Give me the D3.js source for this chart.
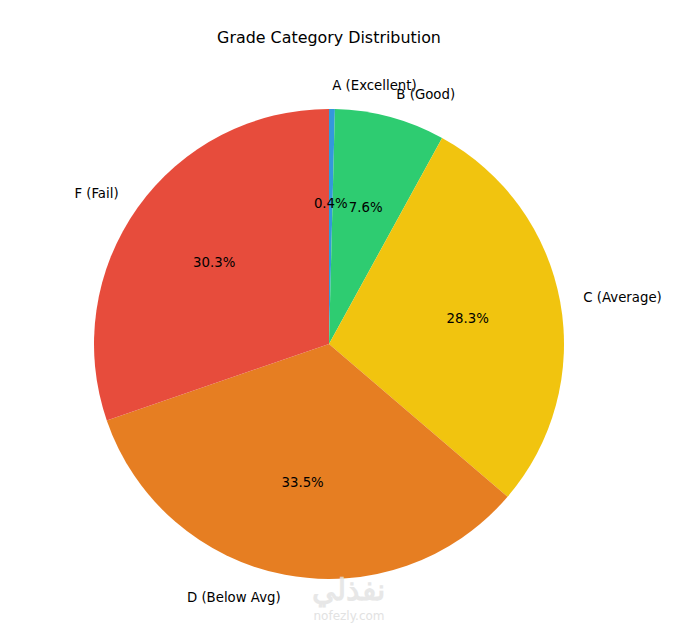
<!DOCTYPE html>
<html><head><meta charset="utf-8">
<script src="https://cdn.jsdelivr.net/npm/d3@7/dist/d3.min.js"></script>
<style>html,body{margin:0;padding:0;background:#fff;}svg{display:block;font-family:"DejaVu Sans",sans-serif;}</style>
</head><body>
<svg id="c" width="696" height="626"></svg>
<script>
const categories = ["A (Excellent)", "B (Good)", "C (Average)", "D (Below Avg)", "F (Fail)"];
const values = [0.4, 7.6, 28.3, 33.5, 30.3];
const colors = ["#3498db", "#2ecc71", "#f1c40f", "#e67e22", "#e74c3c"];
const title = "Grade Category Distribution";

const svg = d3.select("#c");
const cx = 329, cy = 344, r = 235;
const total = d3.sum(values);
const data = categories.map((c, i) => ({label: c, value: values[i], color: colors[i]}));

const pie = d3.pie().value(d => d.value).sort(null);
const arcs = pie(data);
const arc = d3.arc().innerRadius(0).outerRadius(r);
const g = svg.append("g").attr("transform", `translate(${cx},${cy})`);

g.selectAll("path").data(arcs).enter().append("path")
  .attr("d", arc).attr("fill", d => d.data.color);

function pos(a, rr) { const m = (a.startAngle + a.endAngle) / 2; return [rr * Math.sin(m), -rr * Math.cos(m)]; }

g.selectAll("text.pct").data(arcs).enter().append("text")
  .attr("class", "pct")
  .attr("x", d => pos(d, r * 0.6)[0]).attr("y", d => pos(d, r * 0.6)[1])
  .attr("text-anchor", "middle").attr("dominant-baseline", "central")
  .attr("font-size", 13.3).attr("fill", "#000")
  .text(d => (d.value / total * 100).toFixed(1) + "%");

g.selectAll("text.lbl").data(arcs).enter().append("text")
  .attr("class", "lbl")
  .attr("x", d => pos(d, r * 1.1)[0]).attr("y", d => pos(d, r * 1.1)[1])
  .attr("text-anchor", d => pos(d, 1)[0] >= 0 ? "start" : "end")
  .attr("dominant-baseline", "central")
  .attr("font-size", 13.3).attr("fill", "#000")
  .text(d => d.data.label);

svg.append("text").attr("x", cx).attr("y", 37).attr("text-anchor", "middle")
  .attr("dominant-baseline", "central").attr("font-size", 15.9).attr("fill", "#000").text(title);

// watermark
svg.append("text").attr("x", 348).attr("y", 600).attr("text-anchor", "middle")
  .attr("font-family", "'Noto Sans', sans-serif").attr("font-weight", "bold")
  .attr("font-size", 30).attr("fill", "#e2e2e2").attr("opacity", 0.8).text("نفذلي");
svg.append("text").attr("x", 349).attr("y", 620).attr("text-anchor", "middle")
  .attr("font-size", 12).attr("fill", "#e2e2e2").text("nofezly.com");
</script>
</body></html>
